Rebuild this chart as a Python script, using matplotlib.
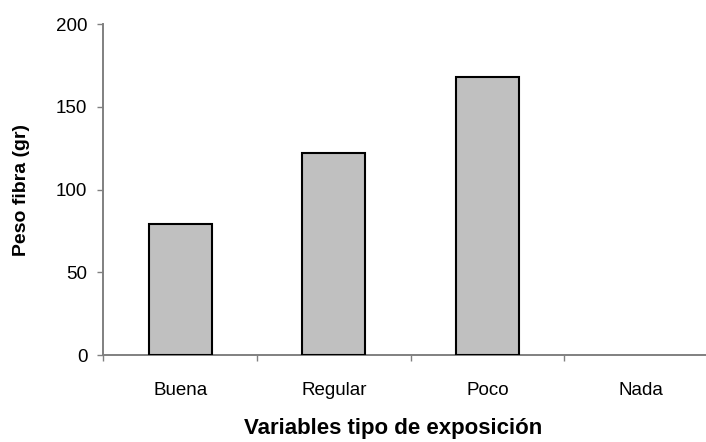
import numpy as np
import matplotlib.pyplot as plt

# Datos: peso de fibra según tipo de exposición
categorias = ["Buena", "Regular", "Poco", "Nada"]
peso_fibra = [79, 122, 168, 0]
y_ticks = [0, 50, 100, 150, 200]

plt.rcParams['font.family'] = ['Liberation Sans', 'DejaVu Sans']

fig = plt.figure(figsize=(7.06, 4.42), dpi=100)
# el eje x continúa más allá del borde derecho de la figura
ax = fig.add_axes([0.1463, 0.1962, 0.8707, 0.7495])

pos = np.arange(len(categorias)) + 0.5
anchos_borde = [1.5 if v > 0 else 0 for v in peso_fibra]
ax.bar(pos, peso_fibra, width=0.41, color='#c0c0c0', edgecolor='black',
       linewidth=anchos_borde, zorder=3)

ax.set_xlim(0, len(categorias))
ax.set_ylim(0, 200)

for lado in ['top', 'right']:
    ax.spines[lado].set_visible(False)
for lado in ['left', 'bottom']:
    ax.spines[lado].set_color('#808080')
    ax.spines[lado].set_linewidth(1.4)

ax.set_yticks(y_ticks)
ax.tick_params(axis='y', length=4.5, width=1.0, color='#808080', pad=7,
               labelsize=13.5)

# etiquetas centradas, marcas en los límites de cada categoría
ax.set_xticks(pos)
ax.set_xticklabels(categorias)
ax.set_xticks(np.arange(len(categorias) + 1), minor=True)
ax.tick_params(axis='x', which='major', length=0, pad=19, labelsize=13.5)
ax.tick_params(axis='x', which='minor', length=4.5, width=1.0, color='#808080')

ax.set_ylabel("Peso fibra (gr)", fontsize=14, fontweight='bold')
ax.yaxis.set_label_coords(-0.12, 0.5)
ax.set_xlabel("Variables tipo de exposición", fontsize=16, fontweight='bold')
ax.xaxis.set_label_coords(0.471, -0.19)

fig.savefig("out.png", dpi=100)
